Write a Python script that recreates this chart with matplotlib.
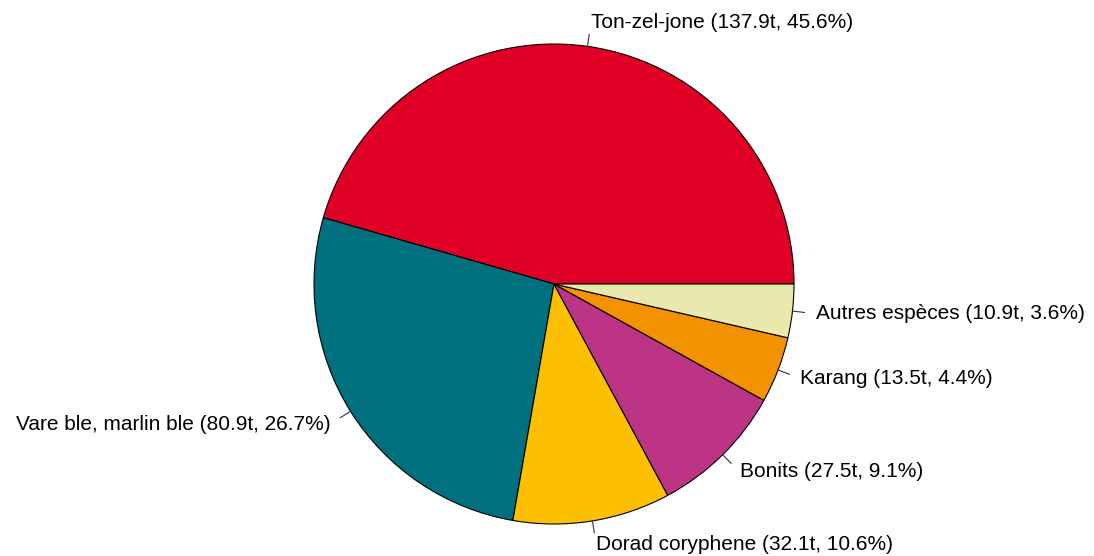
import numpy as np
import matplotlib
matplotlib.use('Agg')
import matplotlib.pyplot as plt

plt.rcParams['font.family'] = ['Liberation Sans', 'DejaVu Sans']

species = ['Ton-zel-jone', 'Vare ble, marlin ble', 'Dorad coryphene',
           'Bonits', 'Karang', 'Autres espèces']
tonnes = [137.9, 80.9, 32.1, 27.5, 13.5, 10.9]
percents = [45.6, 26.7, 10.6, 9.1, 4.4, 3.6]
colors = ['#E00026', '#00707E', '#FCC000', '#BD3386', '#F39200', '#E9E9AE']

labels = ['%s (%.1ft, %.1f%%)' % (s, t, p)
          for s, t, p in zip(species, tonnes, percents)]

fig = plt.figure(figsize=(10.94, 5.56), dpi=100)
ax = fig.add_axes([0, 0, 1, 1])

cx, cy, r = 554, 272, 240
wedges, _ = ax.pie(tonnes, colors=colors, startangle=0, counterclock=True,
                   center=(cx, cy), radius=r,
                   wedgeprops=dict(edgecolor='black', linewidth=0.8))

# R-style labels: short tick from the edge, text just outside
for w, lab in zip(wedges, labels):
    mid = np.deg2rad((w.theta1 + w.theta2) / 2)
    c, s = np.cos(mid), np.sin(mid)
    ax.plot([cx + r * c, cx + 1.05 * r * c], [cy + r * s, cy + 1.05 * r * s],
            color='#333333', lw=0.8)
    ax.text(cx + 1.1 * r * c, cy + 1.1 * r * s, lab, fontsize=15,
            ha='left' if c > 0 else 'right', va='center')

ax.set_xlim(0, 1094)
ax.set_ylim(0, 556)
ax.set_aspect('equal')
ax.axis('off')

fig.savefig('out.png', dpi=100)
